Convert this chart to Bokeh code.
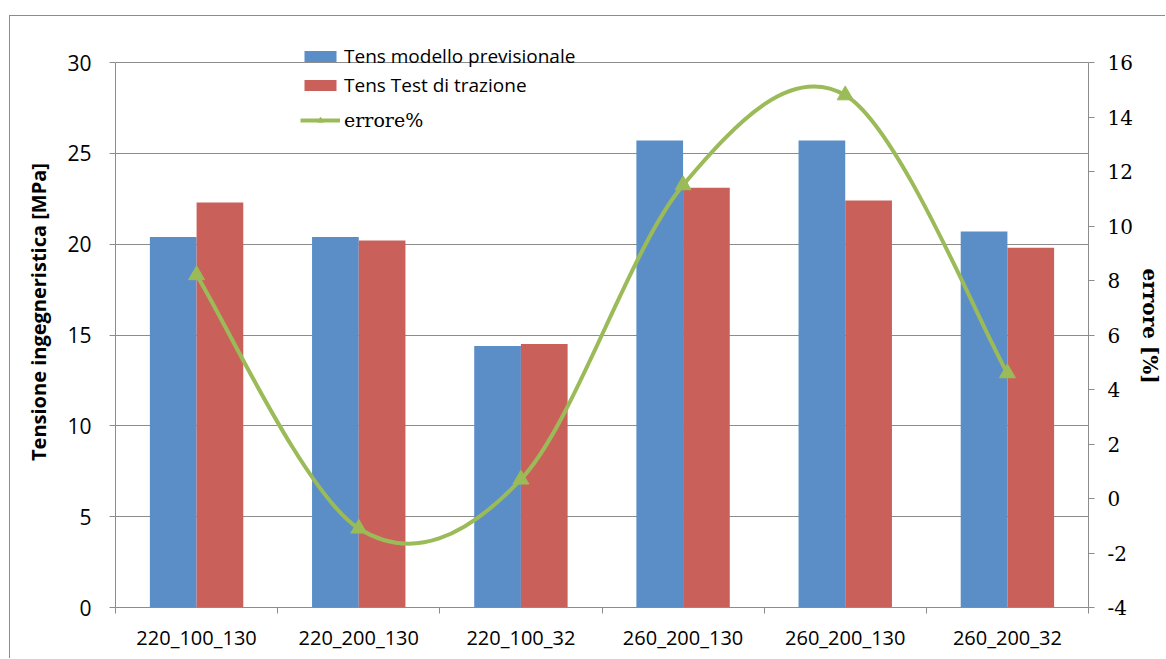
from bokeh.plotting import figure
from bokeh.models import Range1d, LinearAxis, FixedTicker, Legend, LegendItem, Title
from bokeh.embed import file_html
from bokeh.resources import INLINE

# --- data -------------------------------------------------------------
categories = ["220_100_130", "220_200_130", "220_100_32",
              "260_200_130", "260_200_130", "260_200_32"]
tens_modello = [20.4, 20.4, 14.4, 25.7, 25.7, 20.7]   # MPa
tens_test = [22.3, 20.2, 14.5, 23.1, 22.4, 19.8]      # MPa
errore = [8.2, -1.1, 0.7, 11.5, 14.8, 4.6]            # %

left_ticks = [0, 5, 10, 15, 20, 25, 30]
right_ticks = [-4, -2, 0, 2, 4, 6, 8, 10, 12, 14, 16]

# --- styles -----------------------------------------------------------
BLUE = "#5b8ec6"
RED = "#c9615a"
GREEN = "#9bbb59"
GREY = "#8c8c8c"
SANS = "Open Sans"
SERIF = "DejaVu Serif"

# chart area geometry (pixels)
W, H = 1156, 643
FRAME_L, FRAME_R = 105, 78
FRAME_T, FRAME_B = 0, 52
AXIS_SPAN = 545          # pixel height of the 0..30 scale
frame_h = H - FRAME_T - FRAME_B
ext = frame_h / AXIS_SPAN

n = len(categories)
xc = [i + 0.5 for i in range(n)]
bw = 0.288

lo, hi = left_ticks[0], left_ticks[-1]
rlo, rhi = right_ticks[0], right_ticks[-1]

p = figure(width=W, height=H, output_backend="svg", toolbar_location=None,
           x_range=Range1d(0, n), y_range=Range1d(lo, lo + (hi - lo) * ext),
           min_border_left=FRAME_L, min_border_right=FRAME_R,
           min_border_top=FRAME_T, min_border_bottom=FRAME_B)
p.margin = (15, 0, 0, 9)
p.styles = {"border-left": f"1px solid {GREY}", "border-top": f"1px solid {GREY}"}
p.outline_line_color = None
p.background_fill_color = "white"
p.border_fill_color = "white"

p.extra_y_ranges = {"err": Range1d(rlo, rlo + (rhi - rlo) * ext)}

# grid
p.xgrid.grid_line_color = None
p.ygrid.ticker = FixedTicker(ticks=left_ticks)
p.ygrid.grid_line_color = GREY
p.ygrid.grid_line_width = 1

# bars
bx_blue = [x - bw / 2 for x in xc]
bx_red = [x + bw / 2 for x in xc]
r_blue = p.vbar(x=bx_blue, top=tens_modello, bottom=0, width=bw,
                fill_color=BLUE, line_color=None)
r_red = p.vbar(x=bx_red, top=tens_test, bottom=0, width=bw,
               fill_color=RED, line_color=None)

# smoothed error line (Catmull-Rom style cubic Bezier through the points)
pts = list(zip(xc, errore))
x0s, y0s, x1s, y1s, cx0s, cy0s, cx1s, cy1s = [], [], [], [], [], [], [], []
for i in range(n - 1):
    pm = pts[i - 1] if i > 0 else pts[i]
    pa = pts[i]
    pb = pts[i + 1]
    pn = pts[i + 2] if i + 2 < n else pts[i + 1]
    x0s.append(pa[0]); y0s.append(pa[1])
    x1s.append(pb[0]); y1s.append(pb[1])
    cx0s.append(pa[0] + (pb[0] - pm[0]) / 6); cy0s.append(pa[1] + (pb[1] - pm[1]) / 6)
    cx1s.append(pb[0] - (pn[0] - pa[0]) / 6); cy1s.append(pb[1] - (pn[1] - pa[1]) / 6)
p.bezier(x0=x0s, y0=y0s, x1=x1s, y1=y1s, cx0=cx0s, cy0=cy0s, cx1=cx1s, cy1=cy1s,
         line_color=GREEN, line_width=4, y_range_name="err")
r_mark = p.scatter(x=xc, y=errore, marker="triangle", size=16,
                   fill_color=GREEN, line_color=GREEN, y_range_name="err")
r_line = p.line(x=[xc[0]], y=[errore[0]], line_color=GREEN, line_width=4,
                y_range_name="err", visible=False)

# x axis
xa = p.xaxis[0]
xa.ticker = FixedTicker(ticks=xc, minor_ticks=list(range(n + 1)))
xa.major_label_overrides = {x: c for x, c in zip(xc, categories)}
xa.major_tick_out = 0
xa.major_tick_in = 0
xa.minor_tick_out = 6
xa.minor_tick_in = 0
xa.minor_tick_line_color = GREY
xa.axis_line_color = GREY
xa.major_label_text_font = SANS
xa.major_label_text_font_size = "20px"
xa.major_label_text_color = "black"
xa.major_label_standoff = 10

# left axis
ya = p.yaxis[0]
ya.bounds = (lo, hi)
ya.ticker = FixedTicker(ticks=left_ticks)
ya.axis_line_color = GREY
ya.major_tick_line_color = GREY
ya.major_tick_out = 6
ya.major_tick_in = 0
ya.minor_tick_line_color = None
ya.major_label_text_font = SANS
ya.major_label_text_font_size = "21px"
ya.major_label_text_color = "black"
ya.major_label_standoff = 18
ya.axis_label = "Tensione ingegneristica [MPa]"
ya.axis_label_text_font = SANS
ya.axis_label_text_font_style = "bold"
ya.axis_label_text_font_size = "20px"
ya.axis_label_text_color = "black"
ya.axis_label_standoff = 12

# right axis
ra = LinearAxis(y_range_name="err", ticker=FixedTicker(ticks=right_ticks))
ra.bounds = (rlo, rhi)
ra.major_label_overrides = {t: str(t) for t in right_ticks}
ra.axis_line_color = GREY
ra.major_tick_line_color = GREY
ra.major_tick_out = 6
ra.major_tick_in = 0
ra.minor_tick_line_color = None
ra.major_label_text_font = SERIF
ra.major_label_text_font_size = "20px"
ra.major_label_text_color = "black"
ra.major_label_standoff = 13
p.add_layout(ra, "right")

# right axis title, placed along the panel
rtitle = Title(text="errore [%]", align="left", offset=252, standoff=4,
               text_font=SERIF, text_font_style="bold", text_font_size="20px",
               text_color="black")
p.add_layout(rtitle, "right")

# legends
leg1 = Legend(items=[LegendItem(label="Tens modello previsionale", renderers=[r_blue]),
                     LegendItem(label="Tens Test di trazione", renderers=[r_red])],
              location=(185, 509))
leg2 = Legend(items=[LegendItem(label="errore%", renderers=[r_line, r_mark])],
              location=(185, 476))
for lg, font in ((leg1, SANS), (leg2, SERIF)):
    lg.label_text_font = font
    lg.label_text_font_size = "19px"
    lg.label_text_color = "black"
    lg.glyph_width = 40
    lg.glyph_height = 14
    lg.label_height = 14
    lg.spacing = 3
    lg.padding = 0
    lg.margin = 0
    lg.label_standoff = 4
    lg.border_line_color = None
    lg.background_fill_alpha = 0
    p.add_layout(lg)

open("out.html", "w").write(file_html(p, INLINE))
